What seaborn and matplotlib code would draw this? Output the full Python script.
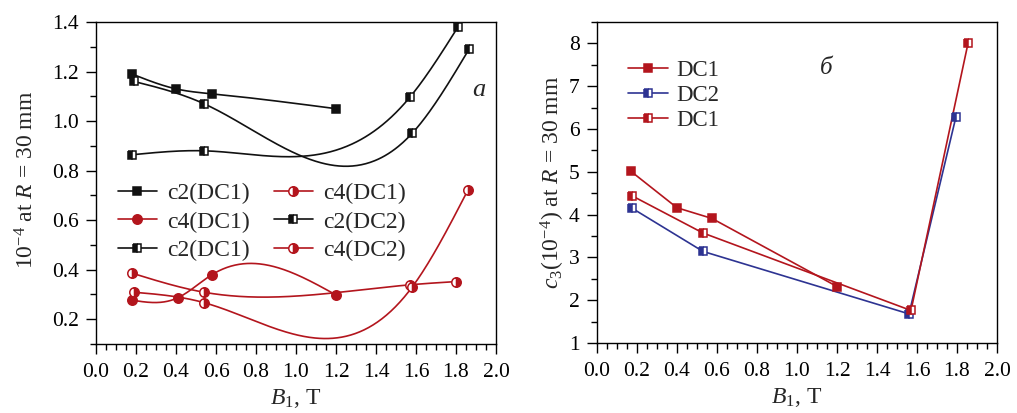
import numpy as np
import matplotlib
matplotlib.use("Agg")
import matplotlib.pyplot as plt
from matplotlib.ticker import MultipleLocator, FormatStrFormatter
import seaborn as sns

# ---- data: harmonic coefficients vs. field B1 ----
# left panel
b1_c2_dc1 = [0.18, 0.40, 0.58, 1.20]
c2_dc1 = [1.19, 1.13, 1.11, 1.05]
b1_c4_dc1 = [0.18, 0.41, 0.58, 1.20]
c4_dc1 = [0.277, 0.287, 0.38, 0.298]
b1_c2_dc1b = [0.19, 0.54, 1.58, 1.865]
c2_dc1b = [1.16, 1.07, 0.95, 1.29]
b1_c4_dc1b = [0.18, 0.54, 1.57, 1.80]
c4_dc1b = [0.386, 0.309, 0.339, 0.352]
b1_c2_dc2 = [0.18, 0.54, 1.57, 1.81]
c2_dc2 = [0.864, 0.88, 1.097, 1.38]
b1_c4_dc2 = [0.19, 0.54, 1.58, 1.86]
c4_dc2 = [0.309, 0.267, 0.329, 0.722]

# right panel
b1_c3_dc1 = [0.17, 0.40, 0.575, 1.20]
c3_dc1 = [5.01, 4.16, 3.91, 2.32]
b1_c3_dc2 = [0.175, 0.53, 1.56, 1.795]
c3_dc2 = [4.15, 3.14, 1.68, 6.29]
b1_c3_dc1b = [0.175, 0.53, 1.57, 1.855]
c3_dc1b = [4.44, 3.57, 1.76, 8.0]

RED = "#b3151d"
BLUE = "#2d3392"
BLACK = "#111111"

sns.set_theme(style="ticks")
plt.rcParams["font.family"] = ["Liberation Serif", "DejaVu Serif"]
plt.rcParams["mathtext.fontset"] = "custom"
plt.rcParams["mathtext.rm"] = "Liberation Serif"
plt.rcParams["mathtext.it"] = "Liberation Serif:italic"
plt.rcParams["axes.unicode_minus"] = True


def natural_spline(x, y, n=300):
    """Natural cubic spline through (x, y) for drawing smooth curves."""
    x = np.asarray(x, float)
    y = np.asarray(y, float)
    m = len(x)
    h = np.diff(x)
    A = np.zeros((m, m))
    r = np.zeros(m)
    A[0, 0] = 1.0
    A[-1, -1] = 1.0
    for i in range(1, m - 1):
        A[i, i - 1] = h[i - 1]
        A[i, i] = 2 * (h[i - 1] + h[i])
        A[i, i + 1] = h[i]
        r[i] = 6 * ((y[i + 1] - y[i]) / h[i] - (y[i] - y[i - 1]) / h[i - 1])
    M = np.linalg.solve(A, r)
    xs = np.linspace(x[0], x[-1], n)
    idx = np.clip(np.searchsorted(x, xs) - 1, 0, m - 2)
    x0, x1 = x[idx], x[idx + 1]
    hh = x1 - x0
    a = (x1 - xs) / hh
    b = (xs - x0) / hh
    ys = (a * y[idx] + b * y[idx + 1]
          + ((a ** 3 - a) * M[idx] + (b ** 3 - b) * M[idx + 1]) * hh ** 2 / 6)
    return xs, ys


fig = plt.figure(figsize=(10.17, 4.13), dpi=100)
axL = fig.add_axes([96 / 1017, 69 / 413, 400 / 1017, 322 / 413])
axR = fig.add_axes([597 / 1017, 70 / 413, 400 / 1017, 321 / 413])

LW = 1.2
MS_SQ = 6.0
MS_CI = 6.8


def series(ax, x, y, color, marker, fill, label, smooth=True):
    if smooth:
        xs, ys = natural_spline(x, y)
    else:
        xs, ys = x, y
    ax.plot(xs, ys, color=color, lw=LW, zorder=2)
    kw = dict(marker=marker, ms=MS_SQ if marker == "s" else MS_CI,
              mec=color, mew=1.1, zorder=3)
    if fill == "full":
        kw.update(mfc=color)
    else:
        kw.update(mfc=color, fillstyle=fill, markerfacecoloralt="white")
    ax.plot(x, y, ls="none", **kw)
    # legend handle: line + marker
    h, = ax.plot([], [], color=color, lw=LW, label=label, **kw)
    return h


hL = [
    series(axL, b1_c2_dc1, c2_dc1, BLACK, "s", "full", "c2(DC1)"),
    series(axL, b1_c4_dc1, c4_dc1, RED, "o", "full", "c4(DC1)"),
    series(axL, b1_c2_dc1b, c2_dc1b, BLACK, "s", "left", "c2(DC1)"),
    series(axL, b1_c4_dc1b, c4_dc1b, RED, "o", "right", "c4(DC1)"),
    series(axL, b1_c2_dc2, c2_dc2, BLACK, "s", "left", "c2(DC2)"),
    series(axL, b1_c4_dc2, c4_dc2, RED, "o", "right", "c4(DC2)"),
]

hR = [
    series(axR, b1_c3_dc2, c3_dc2, BLUE, "s", "left", "DC2", smooth=False),
    series(axR, b1_c3_dc1, c3_dc1, RED, "s", "full", "DC1", smooth=False),
    series(axR, b1_c3_dc1b, c3_dc1b, RED, "s", "left", "DC1", smooth=False),
]
hR = [hR[1], hR[0], hR[2]]

TICK_FS = 15.5
LAB_FS = 17
for ax in (axL, axR):
    ax.set_xlim(0, 2.0)
    ax.xaxis.set_major_locator(MultipleLocator(0.2))
    ax.xaxis.set_minor_locator(MultipleLocator(0.05))
    ax.xaxis.set_major_formatter(FormatStrFormatter("%.1f"))
    ax.tick_params(which="both", direction="out", top=False, right=False,
                   colors="black", labelsize=TICK_FS, width=1.0)
    ax.tick_params(which="major", length=7, pad=5.5)
    ax.tick_params(axis="x", which="major", pad=6.5)
    ax.tick_params(which="minor", length=4)
    for s in ax.spines.values():
        s.set_color("black")
        s.set_linewidth(1.0)
    ax.set_xlabel(r"$B_1$, T", fontsize=LAB_FS)
    ax.xaxis.set_label_coords(0.5, -0.135)
    ax.set_facecolor("white")

axL.set_ylim(0.1, 1.4)
axL.yaxis.set_major_locator(MultipleLocator(0.2))
axL.yaxis.set_minor_locator(MultipleLocator(0.1))
axL.yaxis.set_major_formatter(FormatStrFormatter("%.1f"))
axL.set_ylabel(r"$10^{-4}$ at $R$ = 30 mm", fontsize=LAB_FS)
axL.yaxis.set_label_coords(-0.145, 0.51)

axR.set_ylim(1, 8.5)
axR.yaxis.set_major_locator(MultipleLocator(1))
axR.yaxis.set_minor_locator(MultipleLocator(0.5))
axR.set_ylabel(r"$c_3$(10$^{-4}$) at $R$ = 30 mm", fontsize=LAB_FS)
axR.yaxis.set_label_coords(-0.076, 0.5)

axL.text(0.957, 0.79, "a", transform=axL.transAxes, fontsize=19,
         style="italic", ha="center", va="center")
axR.text(0.573, 0.857, "б", transform=axR.transAxes, fontsize=18,
         style="italic", ha="center", va="center")

axL.legend(handles=hL, ncol=2, loc="upper left", bbox_to_anchor=(0.055, 0.50),
           frameon=False, fontsize=17, handlelength=1.65, handletextpad=0.45,
           columnspacing=1.0, labelspacing=0.28, borderaxespad=0.0,
           borderpad=0.0)
axR.legend(handles=hR, loc="upper left", bbox_to_anchor=(0.078, 0.882),
           frameon=False, fontsize=16.5, handlelength=1.75, handletextpad=0.35,
           labelspacing=0.17, borderaxespad=0.0, borderpad=0.0)

fig.patch.set_facecolor("white")
fig.savefig("out.png", dpi=100, facecolor="white")
